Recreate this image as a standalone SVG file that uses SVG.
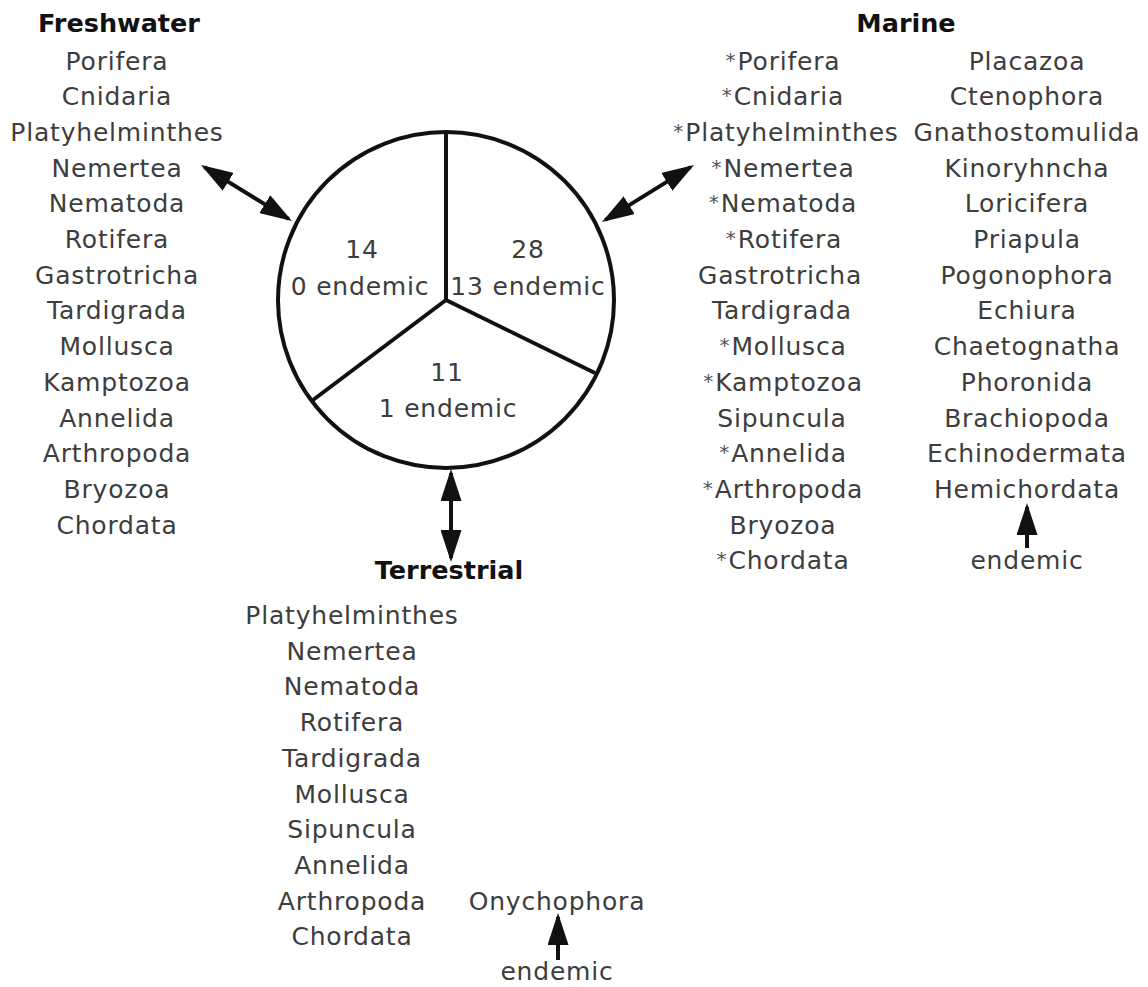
<svg xmlns="http://www.w3.org/2000/svg" width="1148" height="987" viewBox="0 0 1148 987">
<style>
.t{font-family:"DejaVu Sans","Liberation Sans",sans-serif;font-size:25px;fill:#3d3d3d;text-anchor:middle;letter-spacing:0.8px}
.h{font-family:"DejaVu Sans","Liberation Sans",sans-serif;font-size:25.5px;font-weight:bold;fill:#111;text-anchor:middle}
.ast{font-size:20px;fill:#555;letter-spacing:2px}
.ln{stroke:#111;stroke-width:4;fill:none}
.ar{stroke:#111;stroke-width:4;fill:none}
</style>
<defs>
<marker id="head" viewBox="0 0 32 21" markerWidth="32" markerHeight="21" refX="28" refY="10.5" orient="auto-start-reverse" markerUnits="userSpaceOnUse">
<path d="M0,0 L32,10.5 L0,21 z" fill="#111"/>
</marker>
</defs>
<rect width="1148" height="987" fill="#fff"/>

<g id="circle-node">
<circle class="ln" cx="446" cy="300" r="168"/>
<line class="ln" x1="446" y1="302" x2="446" y2="132"/>
<line class="ln" x1="446" y1="300" x2="313" y2="400"/>
<line class="ln" x1="446" y1="300" x2="595" y2="373"/>
<text class="t" x="362" y="258">14</text>
<text class="t" x="360" y="295">0 endemic</text>
<text class="t" x="528" y="258">28</text>
<text class="t" x="528" y="295">13 endemic</text>
<text class="t" x="447" y="381">11</text>
<text class="t" x="448" y="417">1 endemic</text>
</g>

<g id="freshwater">
<text class="h" x="119" y="32">Freshwater</text>
<text class="t" x="117" y="69.5">Porifera</text>
<text class="t" x="117" y="105.2">Cnidaria</text>
<text class="t" x="117" y="140.9">Platyhelminthes</text>
<text class="t" x="117" y="176.6">Nemertea</text>
<text class="t" x="117" y="212.3">Nematoda</text>
<text class="t" x="117" y="248">Rotifera</text>
<text class="t" x="117" y="283.7">Gastrotricha</text>
<text class="t" x="117" y="319.4">Tardigrada</text>
<text class="t" x="117" y="355.1">Mollusca</text>
<text class="t" x="117" y="390.8">Kamptozoa</text>
<text class="t" x="117" y="426.5">Annelida</text>
<text class="t" x="117" y="462.2">Arthropoda</text>
<text class="t" x="117" y="497.9">Bryozoa</text>
<text class="t" x="117" y="533.6">Chordata</text>
</g>

<g id="marine">
<text class="h" x="906" y="32">Marine</text>
<text class="t" x="783" y="69.5"><tspan class="ast" dy="-3">*</tspan><tspan dy="3">Porifera</tspan></text>
<text class="t" x="783" y="105.2"><tspan class="ast" dy="-3">*</tspan><tspan dy="3">Cnidaria</tspan></text>
<text class="t" x="786" y="140.9"><tspan class="ast" dy="-3">*</tspan><tspan dy="3">Platyhelminthes</tspan></text>
<text class="t" x="783" y="176.6"><tspan class="ast" dy="-3">*</tspan><tspan dy="3">Nemertea</tspan></text>
<text class="t" x="783" y="212.3"><tspan class="ast" dy="-3">*</tspan><tspan dy="3">Nematoda</tspan></text>
<text class="t" x="784" y="248"><tspan class="ast" dy="-3">*</tspan><tspan dy="3">Rotifera</tspan></text>
<text class="t" x="780" y="283.7">Gastrotricha</text>
<text class="t" x="782" y="319.4">Tardigrada</text>
<text class="t" x="783" y="355.1"><tspan class="ast" dy="-3">*</tspan><tspan dy="3">Mollusca</tspan></text>
<text class="t" x="783" y="390.8"><tspan class="ast" dy="-3">*</tspan><tspan dy="3">Kamptozoa</tspan></text>
<text class="t" x="782" y="426.5">Sipuncula</text>
<text class="t" x="783" y="462.2"><tspan class="ast" dy="-3">*</tspan><tspan dy="3">Annelida</tspan></text>
<text class="t" x="783" y="497.9"><tspan class="ast" dy="-3">*</tspan><tspan dy="3">Arthropoda</tspan></text>
<text class="t" x="783" y="533.6">Bryozoa</text>
<text class="t" x="783" y="569.3"><tspan class="ast" dy="-3">*</tspan><tspan dy="3">Chordata</tspan></text>
<text class="t" x="1027" y="69.5">Placazoa</text>
<text class="t" x="1027" y="105.2">Ctenophora</text>
<text class="t" x="1027" y="140.9">Gnathostomulida</text>
<text class="t" x="1027" y="176.6">Kinoryhncha</text>
<text class="t" x="1027" y="212.3">Loricifera</text>
<text class="t" x="1027" y="248">Priapula</text>
<text class="t" x="1027" y="283.7">Pogonophora</text>
<text class="t" x="1027" y="319.4">Echiura</text>
<text class="t" x="1027" y="355.1">Chaetognatha</text>
<text class="t" x="1027" y="390.8">Phoronida</text>
<text class="t" x="1027" y="426.5">Brachiopoda</text>
<text class="t" x="1027" y="462.2">Echinodermata</text>
<text class="t" x="1027" y="497.9">Hemichordata</text>
<text class="t" x="1027" y="569.3">endemic</text>
</g>

<g id="terrestrial">
<text class="h" x="449" y="579">Terrestrial</text>
<text class="t" x="352" y="624">Platyhelminthes</text>
<text class="t" x="352" y="659.7">Nemertea</text>
<text class="t" x="352" y="695.4">Nematoda</text>
<text class="t" x="352" y="731.1">Rotifera</text>
<text class="t" x="352" y="766.8">Tardigrada</text>
<text class="t" x="352" y="802.5">Mollusca</text>
<text class="t" x="352" y="838.2">Sipuncula</text>
<text class="t" x="352" y="873.9">Annelida</text>
<text class="t" x="352" y="909.6">Arthropoda</text>
<text class="t" x="352" y="945.3">Chordata</text>
<text class="t" x="557" y="909.6">Onychophora</text>
<text class="t" x="557" y="980">endemic</text>
</g>

<g id="connectors">
<line class="ar" x1="204.4" y1="167.1" x2="288.6" y2="218.9" marker-start="url(#head)" marker-end="url(#head)"/>
<line class="ar" x1="605.4" y1="219.9" x2="690.6" y2="167.1" marker-start="url(#head)" marker-end="url(#head)"/>
<line class="ar" x1="451" y1="473" x2="451" y2="558" marker-start="url(#head)" marker-end="url(#head)"/>
<line class="ar" x1="1027" y1="548" x2="1027" y2="507" marker-end="url(#head)"/>
<line class="ar" x1="558" y1="960" x2="558" y2="917" marker-end="url(#head)"/>
</g>
</svg>
